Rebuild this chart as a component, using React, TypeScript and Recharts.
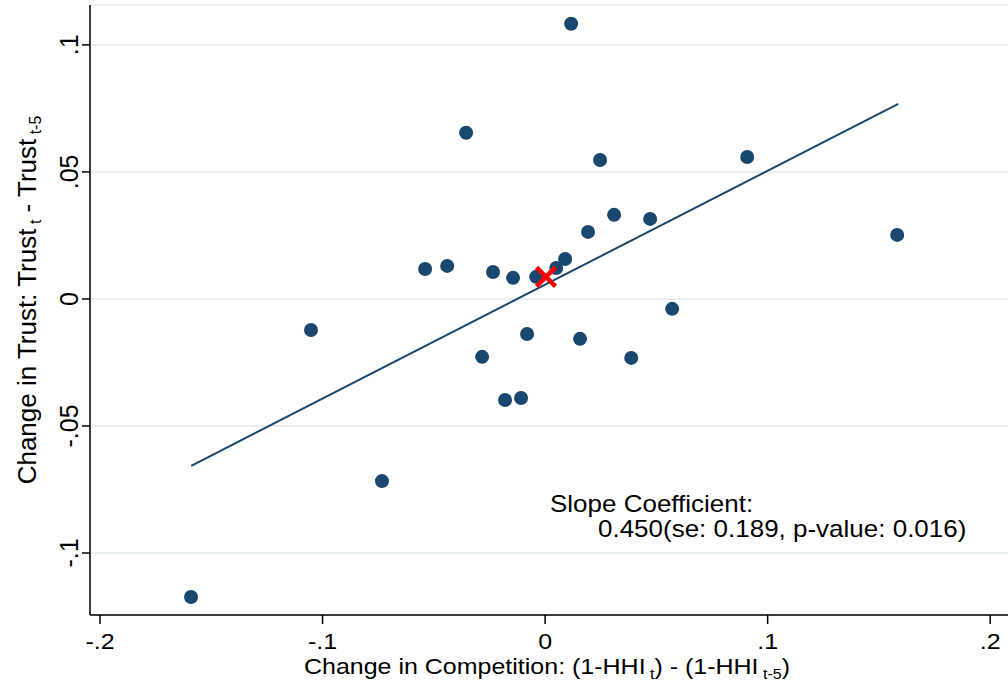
import React from "react";
import {
  CartesianGrid,
  Scatter,
  ScatterChart,
  XAxis,
  YAxis
} from "recharts";

// x = change in competition, y = change in trust
const points = [
  { x: 0.0117, y: 0.1083 },
  { x: -0.0355, y: 0.0654 },
  { x: 0.0247, y: 0.0547 },
  { x: 0.0908, y: 0.0559 },
  { x: 0.031, y: 0.0331 },
  { x: 0.0472, y: 0.0315 },
  { x: 0.0193, y: 0.0264 },
  { x: 0.1582, y: 0.0252 },
  { x: -0.0539, y: 0.0118 },
  { x: -0.044, y: 0.013 },
  { x: -0.0234, y: 0.0106 },
  { x: -0.0144, y: 0.0083 },
  { x: -0.004, y: 0.0087 },
  { x: 0.005, y: 0.0122 },
  { x: 0.009, y: 0.0157 },
  { x: -0.0081, y: -0.0138 },
  { x: 0.0157, y: -0.0157 },
  { x: 0.0571, y: -0.0039 },
  { x: -0.1052, y: -0.0122 },
  { x: -0.0283, y: -0.0228 },
  { x: 0.0387, y: -0.0232 },
  { x: -0.018, y: -0.0398 },
  { x: -0.0108, y: -0.039 },
  { x: -0.0733, y: -0.0717 },
  { x: -0.1591, y: -0.1173 }
];

const fitLine = [
  { x: -0.159, y: -0.0657 },
  { x: 0.1587, y: 0.0768 }
];

const highlight = [{ x: 0.0004, y: 0.0087 }];

const xTicks = [-0.2, -0.1, 0, 0.1, 0.2];
const yTicks = [-0.1, -0.05, 0, 0.05, 0.1];

const navy = "#1a476f";
const font = "'Liberation Sans', Arial, sans-serif";
const squash = 0.9; // horizontal text in the original is a bit flatter

const fmt = (v: number) => {
  if (v === 0) return "0";
  return String(v).replace("0.", ".");
};

const YTick = (props: any) => {
  const { x, y, payload } = props;
  const bx = x - 4;
  return (
    <text
      transform={`translate(${bx} ${y}) rotate(-90)`}
      textAnchor="middle"
      fontSize={25}
      fontFamily={font}
      fill="#000"
    >
      {fmt(payload.value)}
    </text>
  );
};

const XTick = (props: any) => {
  const { x, y, payload } = props;
  return (
    <text
      transform={`translate(${x} ${y + 23}) scale(1 ${squash})`}
      textAnchor="middle"
      fontSize={25}
      fontFamily={font}
      fill="#000"
    >
      {fmt(payload.value)}
    </text>
  );
};

const Cross = (props: any) => {
  const { cx, cy } = props;
  const s = 9.5;
  return (
    <g stroke="#ff0000" strokeWidth={4.5}>
      <line x1={cx - s} y1={cy - s} x2={cx + s} y2={cy + s} />
      <line x1={cx - s} y1={cy + s} x2={cx + s} y2={cy - s} />
    </g>
  );
};

const Dot = (props: any) => {
  const { cx, cy } = props;
  return <circle cx={cx} cy={cy} r={7} fill={navy} />;
};

const NoShape = () => <g />;

export default function App() {
  return (
    <div style={{ position: "relative", width: 1008, height: 684 }}>
      <style>{`body{margin:0}`}</style>
      <ScatterChart
        width={1008}
        height={684}
        margin={{ top: 5, right: 0, bottom: 0, left: 0 }}
        style={{ background: "#fff" }}
      >
        <CartesianGrid
          horizontal
          vertical={false}
          stroke="#e8eff2"
          strokeWidth={2}
        />
        <XAxis
          type="number"
          dataKey="x"
          domain={[-0.2045, 0.208]}
          ticks={xTicks}
          allowDataOverflow
          height={69}
          tickSize={9}
          tickLine={{ stroke: "#000", strokeWidth: 1.5 }}
          axisLine={{ stroke: "#000", strokeWidth: 1.5 }}
          tick={<XTick />}
          interval={0}
        />
        <YAxis
          type="number"
          dataKey="y"
          domain={[-0.1244, 0.1157]}
          ticks={yTicks}
          allowDataOverflow
          width={90}
          tickSize={8}
          tickMargin={0}
          tickLine={{ stroke: "#000", strokeWidth: 1.5 }}
          axisLine={{ stroke: "#000", strokeWidth: 1.5 }}
          tick={<YTick />}
          interval={0}
        />
        <Scatter
          data={fitLine}
          line={{ stroke: navy, strokeWidth: 2 }}
          shape={<NoShape />}
          isAnimationActive={false}
        />
        <Scatter data={points} shape={<Dot />} isAnimationActive={false} />
        <Scatter data={highlight} shape={<Cross />} isAnimationActive={false} />
      </ScatterChart>
      <svg
        width={1008}
        height={684}
        style={{ position: "absolute", left: 0, top: 0, pointerEvents: "none" }}
        fontFamily={font}
      >
        <text
          transform="translate(36 300) rotate(-90)"
          textAnchor="middle"
          fontSize={26}
        >
          Change in Trust: Trust
          <tspan fontSize={16} dy={5}> t</tspan>
          <tspan dy={-5}> - Trust</tspan>
          <tspan fontSize={16} dy={5}> t-5</tspan>
        </text>
        <text
          transform={`translate(547 674) scale(1 ${squash})`}
          textAnchor="middle"
          fontSize={25}
        >
          Change in Competition: (1-HHI
          <tspan fontSize={16} dy={5}> t</tspan>
          <tspan dy={-5}>) - (1-HHI</tspan>
          <tspan fontSize={16} dy={5}> t-5</tspan>
          <tspan dy={-5}>)</tspan>
        </text>
        <text transform={`translate(550 512) scale(1 ${squash})`} fontSize={26}>
          Slope Coefficient:
        </text>
        <text transform={`translate(598 537) scale(1 ${squash})`} fontSize={26}>
          0.450(se: 0.189, p-value: 0.016)
        </text>
      </svg>
    </div>
  );
}
